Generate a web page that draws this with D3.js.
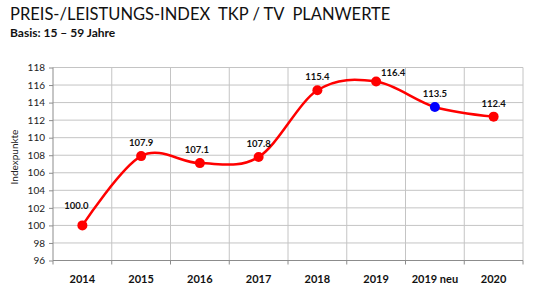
<!DOCTYPE html>
<html>
<head>
<meta charset="utf-8">
<script src="https://cdn.jsdelivr.net/npm/d3@7"></script>
<style>
  body { margin: 0; background: #fff; }
  text { font-family: Lato, "Open Sans", sans-serif; white-space: pre; }
</style>
</head>
<body>
<svg id="chart" width="540" height="297"></svg>
<script>
// chart data
var categories = ["2014", "2015", "2016", "2017", "2018", "2019", "2019 neu", "2020"];
var values = [100.0, 107.9, 107.1, 107.8, 115.4, 116.4, 113.5, 112.4];
var pointColors = ["red", "red", "red", "red", "red", "red", "blue", "red"];
var yTicks = [96, 98, 100, 102, 104, 106, 108, 110, 112, 114, 116, 118];
// label nudges (dx, dy) like excel placed them
var labelNudge = [[-6, -6], [0, 0], [-3, 0], [0, 0], [0, 0], [17, 4], [0, 0], [0, 0]];

var svg = d3.select("#chart");
var margin = {left: 53, right: 17, top: 67.5, bottom: 36.5};
var width = 540 - margin.left - margin.right;
var height = 297 - margin.top - margin.bottom;

svg.append("text")
    .attr("x", 10).attr("y", 20)
    .attr("font-size", 16.5)
    .attr("fill", "#111")
    .text("PREIS-/LEISTUNGS-INDEX  TKP / TV  PLANWERTE");
svg.append("text")
    .attr("x", 10).attr("y", 36.5)
    .attr("font-size", 12)
    .attr("font-weight", "bold")
    .attr("fill", "#111")
    .text("Basis: 15 – 59 Jahre");

var g = svg.append("g").attr("transform", "translate(" + margin.left + "," + margin.top + ")");

var x = d3.scaleBand().domain(categories).range([0, width]);
var y = d3.scaleLinear().domain([96, 118]).range([height, 0]);

// horizontal grid
g.append("g").selectAll("line")
    .data(yTicks.slice(1))
    .enter().append("line")
    .attr("x1", 0).attr("x2", width)
    .attr("y1", y).attr("y2", y)
    .attr("stroke", "#c4c4c4").attr("stroke-width", 1);

// vertical grid at band edges
var edges = categories.map(function(c) { return x(c); }).concat([width]).slice(1);
g.append("g").selectAll("line")
    .data(edges)
    .enter().append("line")
    .attr("x1", d => d).attr("x2", d => d)
    .attr("y1", 0).attr("y2", height)
    .attr("stroke", "#c4c4c4").attr("stroke-width", 1);

// y axis
var yAxis = g.append("g").call(d3.axisLeft(y).tickValues(yTicks).tickSize(4).tickPadding(4));
yAxis.selectAll("text").attr("font-size", 10).attr("fill", "#222")
    .style("font-family", "Lato, sans-serif");
yAxis.selectAll("line, path").attr("stroke", "#8c8c8c");
yAxis.select(".domain").attr("d", "M0,0V" + height);

// x axis with ticks at band edges
var xAxis = g.append("g").attr("transform", "translate(0," + height + ")");
xAxis.append("line").attr("x1", 0).attr("x2", width).attr("stroke", "#8c8c8c");
xAxis.selectAll(".tk")
    .data([0].concat(edges))
    .enter().append("line")
    .attr("x1", d => d).attr("x2", d => d)
    .attr("y1", 0).attr("y2", 4)
    .attr("stroke", "#8c8c8c");
xAxis.selectAll("text")
    .data(categories)
    .enter().append("text")
    .attr("x", d => x(d) + x.bandwidth() / 2)
    .attr("y", 22)
    .attr("text-anchor", "middle")
    .attr("font-size", 11)
    .attr("font-weight", "bold")
    .attr("fill", "#111")
    .text(d => d);

// y axis title
svg.append("text")
    .attr("transform", "translate(18," + (margin.top + height / 2 - 7) + ") rotate(-90)")
    .attr("text-anchor", "middle")
    .attr("font-size", 10)
    .attr("fill", "#222")
    .text("Indexpunkte");

var pts = categories.map(function(c, i) {
    return [x(c) + x.bandwidth() / 2, y(values[i])];
});

g.append("path")
    .attr("d", d3.line().curve(d3.curveCardinal.tension(0))(pts))
    .attr("fill", "none")
    .attr("stroke", "#ff0000")
    .attr("stroke-width", 2.5);

g.selectAll(".dot")
    .data(pts)
    .enter().append("circle")
    .attr("cx", d => d[0]).attr("cy", d => d[1])
    .attr("r", 5)
    .attr("fill", (d, i) => pointColors[i] === "blue" ? "#0000ff" : "#ff0000");

g.selectAll(".lbl")
    .data(values)
    .enter().append("text")
    .attr("x", (d, i) => pts[i][0] + labelNudge[i][0])
    .attr("y", (d, i) => pts[i][1] - 10 + labelNudge[i][1])
    .attr("text-anchor", "middle")
    .attr("font-size", 9.5)
    .attr("font-weight", "bold")
    .attr("fill", "#111")
    .text(d => d.toFixed(1));
</script>
</body>
</html>
